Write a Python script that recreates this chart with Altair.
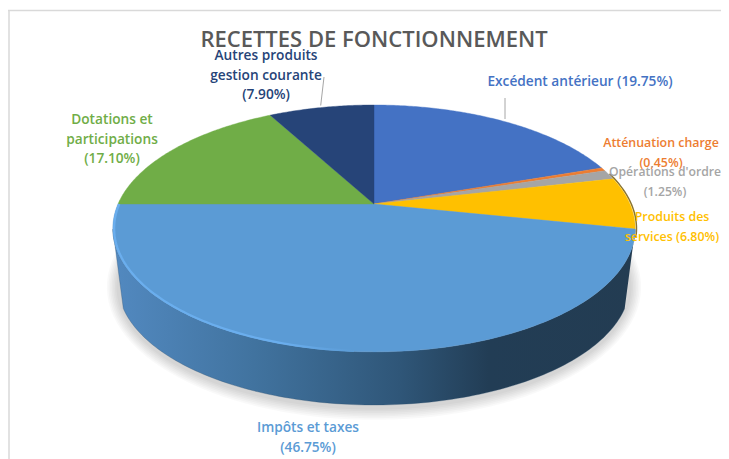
import numpy as np
import pandas as pd
import altair as alt

# ---- chart values ----
CATEGORIES = ["Excédent antérieur", "Atténuation charge", "Opérations d'ordre",
              "Produits des services", "Impôts et taxes", "Dotations et participations",
              "Autres produits gestion courante"]
SHARES = [19.75, 0.45, 1.25, 6.80, 46.75, 17.10, 7.90]
COLORS = ["#4472c4", "#ed7d31", "#a5a5a5", "#ffc000", "#5b9bd5", "#70ad47", "#264478"]
LABELS = ["Excédent antérieur (19.75%)", "Atténuation charge\n(0,45%)",
          "Opérations d'ordre\n(1.25%)", "Produits des\nservices (6.80%)",
          "Impôts et taxes\n(46.75%)", "Dotations et\nparticipations\n(17.10%)",
          "Autres produits\ngestion courante\n(7.90%)"]
TITLE = "RECETTES DE FONCTIONNEMENT"

# ---- layout (page pixels) ----
LABEL_X = [580, 661, 665, 672, 308, 112, 266]
LABEL_Y = [82, 143, 172, 217, 428, 120, 56]
LABEL_SIZE = [13.7, 12.4, 12.2, 12.4, 13.7, 13.7, 13.7]
CX, CY = 374, 204
B, A, P = 256, 118.6, 0.198
FONT = "Open Sans"

x_s = alt.Scale(domain=[8, 721], range=[0, 713], nice=False, zero=False)
y_s = alt.Scale(domain=[8, 459], range=[0, 451], nice=False, zero=False)
X = alt.X("x:Q", scale=x_s, axis=None)
Y = alt.Y("y:Q", scale=y_s, axis=None)


def rim(f0, f1, grow=1.0, n=None):
    n = n or max(3, int(abs(f1 - f0) * 6) + 3)
    t = np.linspace(f0, f1, n) / 100 * 2 * np.pi
    d = 1 + P * np.cos(t)
    return CX + grow * B * np.sin(t) / d, CY - grow * A * np.cos(t) / d


def poly(xs, ys, **kw):
    df = pd.DataFrame({"x": xs, "y": ys, "i": range(len(xs))})
    return alt.Chart(df).mark_line(interpolate="linear", clip=False, **kw).encode(
        x=X, y=Y, order="i:Q")


def bottom_arc(f0, f1, rx, cy, ry, n=120):
    t = np.linspace(f0, f1, n) / 100 * 2 * np.pi
    return 374 + rx * np.sin(t), cy - ry * np.cos(t)


layers = []

# frame
layers.append(poly([9.0, 9.0], [10.5, 459.0], stroke="#d9d9d9", strokeWidth=1.5))
layers.append(poly([8.0, 721.0], [10.5, 10.5], stroke="#d9d9d9", strokeWidth=1.5))

# soft shadow under the pie
for k in range(1, 8):
    sx, sy = bottom_arc(0, 100, 256 + k * 1.6, 287, 121 + k * 1.7)
    layers.append(poly(sx, sy, fill="#000000", fillOpacity=0.022, strokeOpacity=0))

# side wall
start = sum(SHARES[:4])
rx1, ry1 = rim(start, 100 - start, n=160)
bx, by = bottom_arc(100 - start, start, 256, 284, 121)
wall = alt.Gradient(gradient="linear", x1=0, y1=0, x2=1, y2=0, stops=[
    alt.GradientStop(color="#5289c0", offset=0),
    alt.GradientStop(color="#41739f", offset=0.27),
    alt.GradientStop(color="#2f5678", offset=0.55),
    alt.GradientStop(color="#223d55", offset=0.72),
    alt.GradientStop(color="#233c52", offset=1),
])
layers.append(poly(np.r_[rx1, bx], np.r_[ry1, by], fill=wall, stroke="#2a4a68", strokeWidth=0.3))

# dark edge behind the right-hand slices
ex, ey = rim(sum(SHARES[:2]) + 0.5, start + 1, grow=1.005, n=40)
layers.append(poly(ex, ey, stroke="#8a7430", strokeWidth=1.5))

# slices
cum = 0.0
for share, color in zip(SHARES, COLORS):
    xs, ys = rim(cum, cum + share)
    layers.append(poly(np.r_[CX, xs, CX], np.r_[CY, ys, CY],
                       fill=color, stroke=color, strokeWidth=0.4))
    cum += share

# bevel highlight along the front rim
hx, hy = rim(75, 51, grow=0.995, n=120)
hl = alt.Gradient(gradient="linear", x1=0, y1=0, x2=1, y2=0, stops=[
    alt.GradientStop(color="#6aaeee", offset=0),
    alt.GradientStop(color="#6aaeee", offset=0.7),
    alt.GradientStop(color="#5b9bd5", offset=1),
])
layers.append(poly(hx, hy, stroke=hl, strokeWidth=2.2))

# leader lines
leaders = pd.DataFrame({"x": [505, 324], "y": [98, 77], "x2": [505, 320.7], "y2": [119, 105.5]})
layers.append(alt.Chart(leaders).mark_rule(color="#a6a6a6", strokeWidth=1).encode(
    x=X, y=Y, x2="x2:Q", y2="y2:Q"))

# title
layers.append(alt.Chart(pd.DataFrame({"x": [374], "y": [40], "t": [TITLE]})).mark_text(
    font=FONT, fontSize=22, fontWeight=600, color="#595959", align="center", baseline="middle"
).encode(x=X, y=Y, text="t:N"))

# data labels
for lab, lx, ly, size, color in zip(LABELS, LABEL_X, LABEL_Y, LABEL_SIZE, COLORS):
    df = pd.DataFrame({"x": [lx], "y": [ly], "t": [lab]})
    layers.append(alt.Chart(df).mark_text(
        font=FONT, fontSize=size, fontWeight=600, color=color, align="center", baseline="middle",
        lineBreak="\n", lineHeight=19.5
    ).encode(x=X, y=Y, text="t:N"))

chart = alt.layer(*layers).properties(
    width=713, height=451, padding=0, autosize=alt.AutoSizeParams(type="none"),
    background="white"
).configure_view(stroke=None).resolve_scale(x="shared", y="shared")

chart.save("out.html", embed_options={"renderer": "svg", "actions": False})
